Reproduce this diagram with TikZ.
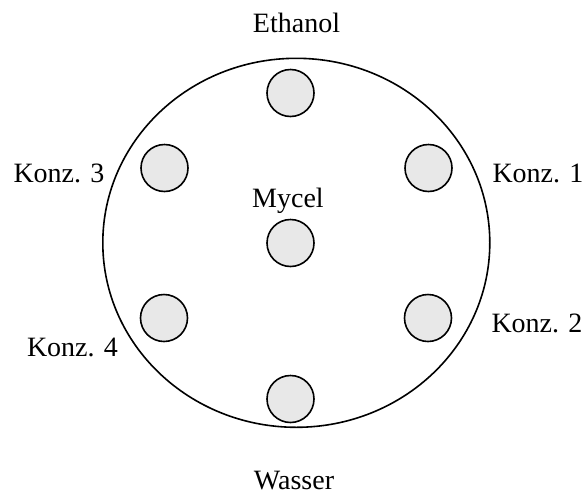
\documentclass[tikz,border=0pt]{standalone}
\usepackage{fontspec}
\setmainfont{Liberation Serif}
\usepackage{tikz}
\usetikzlibrary{shapes.geometric}
\definecolor{WellGray}{HTML}{E8E8E8}

\begin{document}
\begin{tikzpicture}[
    x=1pt,y=-1pt,
    plate/.style={draw,ellipse,line width=1.6pt,inner sep=0pt,
                  minimum width=387pt,minimum height=369pt},
    well/.style={draw,circle,line width=1.6pt,fill=WellGray,inner sep=0pt,
                 minimum size=47pt},
    lbl/.style={inner sep=0pt,anchor=base,font=\fontsize{28}{30}\selectfont}
  ]
    \useasboundingbox (0,0) rectangle (584,496);
    \node[plate] (dish) at (296.3,242.8) {};
    \node[well] (top) at (290.5,93) {};
    \node[well] (ul) at (164.5,168) {};
    \node[well] (ur) at (428.5,168) {};
    \node[well] (mid) at (290.5,243) {};
    \node[well] (ll) at (164,318) {};
    \node[well] (lr) at (428,318) {};
    \node[well] (bot) at (290.5,399) {};
    \node[lbl] (eth) at (296.5,32) {Ethanol};
    \node[lbl] (k3) at (59,182) {Konz. 3};
    \node[lbl] (k1) at (538,182) {Konz. 1};
    \node[lbl] (myc) at (288,207) {Mycel};
    \node[lbl] (k4) at (72.5,356) {Konz. 4};
    \node[lbl] (k2) at (537,332) {Konz. 2};
    \node[lbl] (was) at (294,489) {Wasser};
  \end{tikzpicture}
\end{document}
